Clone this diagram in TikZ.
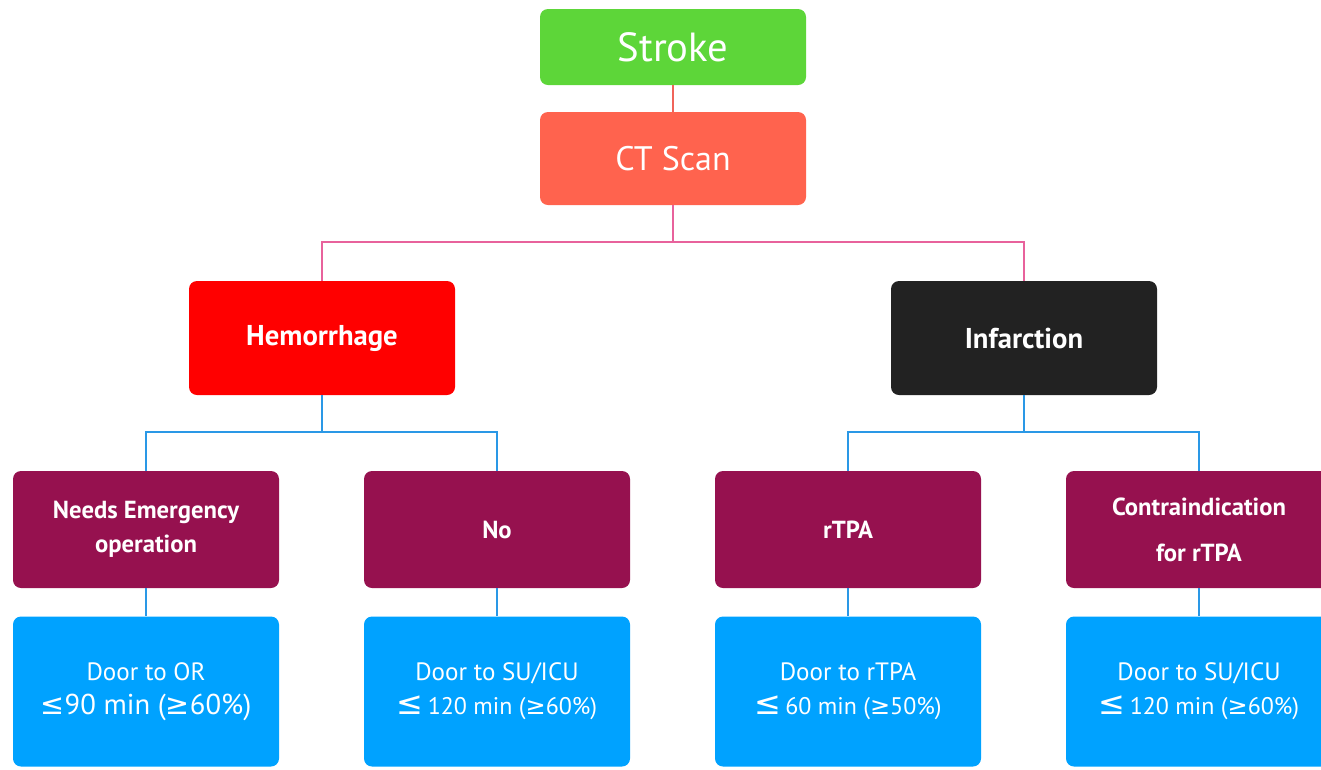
\documentclass[tikz,border=0pt]{standalone}
\usepackage{fontspec}
\setmainfont{PT Sans}
\newfontfamily\symf{DejaVu Sans}
\definecolor{cgreen}{HTML}{5DD639}
\definecolor{cct}{HTML}{FF634E}
\definecolor{cred}{HTML}{FF0000}
\definecolor{cdark}{HTML}{222222}
\definecolor{cmaroon}{HTML}{96114F}
\definecolor{cblue}{HTML}{00A2FF}
\definecolor{lpink}{HTML}{E8629C}
\definecolor{lsalmon}{HTML}{F0645A}
\definecolor{lblue}{HTML}{2A98E6}
\begin{document}
\begin{tikzpicture}[x=0.75pt,y=-0.75pt,
  box/.style={rounded corners=6pt,inner sep=0pt,align=center,text=white,minimum width=199.5pt},
  lvltop/.style={box,minimum height=57pt},
  lvlct/.style={box,minimum height=69.75pt},
  lvltwo/.style={box,minimum height=85.5pt,font=\bfseries\fontsize{21.5}{25}\selectfont},
  lvlthree/.style={box,fill=cmaroon,minimum height=87.75pt,font=\bfseries\fontsize{18.5}{25.5}\selectfont},
  lvlfour/.style={box,fill=cblue,minimum height=112.5pt,font=\fontsize{18.8}{25.5}\selectfont},
  conn/.style={line width=1.1pt}]
\useasboundingbox (0,0) rectangle (1321,769);
\clip (0,0) rectangle (1321,769);
\node[lvltop,fill=cgreen,font=\fontsize{30.5}{34}\selectfont] (stroke) at (673,47) {Stroke};
\node[lvlct,fill=cct,font=\fontsize{25.5}{29}\selectfont] (ct) at (673,158.5) {CT Scan};
\node[lvltwo,fill=cred] (hem) at (322,338) {Hemorrhage};
\node[lvltwo,fill=cdark] (inf) at (1024,338) {Infarction};
\node[lvlthree] (emer) at (146,529.5) {Needs Emergency\\operation};
\node[lvlthree] (no) at (497,529.5) {No};
\node[lvlthree] (rtpa) at (848,529.5) {rTPA};
\node[lvlthree,font=\bfseries\fontsize{18.5}{34.5}\selectfont] (contra) at (1199,529.5) {Contraindication\\for rTPA};
\node[lvlfour] (or) at (146,691.5) {Door to OR\\{\fontsize{21.5}{25.5}\selectfont{\symf ≤}90 min ({\symf ≥}60\%)}};
\node[lvlfour] (su1) at (497,691.5) {Door to SU/ICU\\{\fontsize{24}{25.5}\selectfont\symf ≤}\,{\fontsize{18}{25.5}\selectfont 120 min ({\symf ≥}60\%)}};
\node[lvlfour] (door) at (848,691.5) {Door to rTPA\\{\fontsize{24}{25.5}\selectfont\symf ≤}\,{\fontsize{18}{25.5}\selectfont 60 min ({\symf ≥}50\%)}};
\node[lvlfour] (su2) at (1199,691.5) {Door to SU/ICU\\{\fontsize{24}{25.5}\selectfont\symf ≤}\,{\fontsize{18}{25.5}\selectfont 120 min ({\symf ≥}60\%)}};
\draw[conn,lsalmon] (stroke.south) -- (ct.north);
\coordinate (jtop) at (673,242);
\draw[conn,lpink] (ct.south) -- (jtop) -| (hem.north);
\draw[conn,lpink] (jtop) -| (inf.north);
\coordinate (jhem) at (322,432);
\draw[conn,lblue] (hem.south) -- (jhem) -| (emer.north);
\draw[conn,lblue] (jhem) -| (no.north);
\coordinate (jinf) at (1024,432);
\draw[conn,lblue] (inf.south) -- (jinf) -| (rtpa.north);
\draw[conn,lblue] (jinf) -| (contra.north);
\draw[conn,lblue] (emer.south) -- (or.north);
\draw[conn,lblue] (no.south) -- (su1.north);
\draw[conn,lblue] (rtpa.south) -- (door.north);
\draw[conn,lblue] (contra.south) -- (su2.north);
\end{tikzpicture}
\end{document}
